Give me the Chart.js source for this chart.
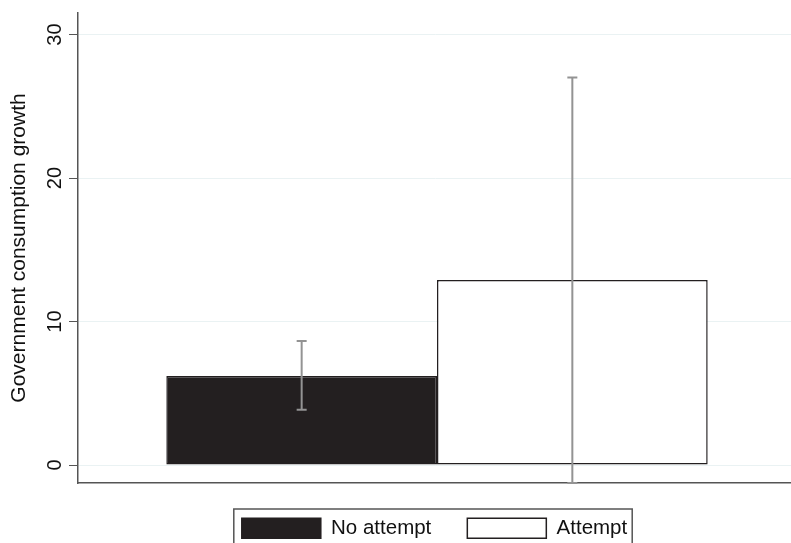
<!DOCTYPE html>
<html>
<head>
<meta charset="utf-8">
<script src="https://cdn.jsdelivr.net/npm/chart.js@4.4.1/dist/chart.umd.min.js"></script>
<style>
html,body{margin:0;padding:0;background:#fff;}
#wrap{width:791px;height:543px;position:relative;}
</style>
</head>
<body>
<div id="wrap"><canvas id="c" width="791" height="543"></canvas></div>
<script>
// Data
const categories = [''];
const seriesNames = ['No attempt', 'Attempt'];
const meanValues = [6.2, 12.9];
const errLow = [3.85, -1.25];
const errHigh = [8.65, 27.0];
const yTicks = [0, 10, 20, 30];
const yTitle = 'Government consumption growth';

const FONT = "'Liberation Sans', Arial, Helvetica, sans-serif";
const barFill = ['#231f20', '#ffffff'];
const barBorder = ['#231f20', '#231f20'];

// extend the plot area slightly past the right edge (as in the original, where it is cut off)
const areaPlugin = {
  id: 'areaExtend',
  afterLayout(chart) {
    const ext = 5;
    chart.chartArea.right += ext;
    chart.chartArea.width = chart.chartArea.right - chart.chartArea.left;
    const x = chart.scales.x;
    x.right += ext;
    x.width = x.right - x.left;
    x.configure();
  }
};

const errorBarPlugin = {
  id: 'errorBars',
  afterDatasetsDraw(chart) {
    const ctx = chart.ctx;
    const y = chart.scales.y;
    ctx.save();
    ctx.strokeStyle = '#939393';
    ctx.lineWidth = 2;
    chart.data.datasets.forEach((ds, i) => {
      const el = chart.getDatasetMeta(i).data[0];
      const x = el.x;
      const yl = y.getPixelForValue(errLow[i]);
      const yh = y.getPixelForValue(errHigh[i]);
      ctx.beginPath();
      ctx.moveTo(x, yl); ctx.lineTo(x, yh);
      ctx.moveTo(x - 5, yl); ctx.lineTo(x + 5, yl);
      ctx.moveTo(x - 5, yh); ctx.lineTo(x + 5, yh);
      ctx.stroke();
    });
    ctx.restore();
  }
};

// rotated y tick labels, positioned through the y scale
const yLabelPlugin = {
  id: 'yLabels',
  afterDraw(chart) {
    const y = chart.scales.y;
    const ctx = chart.ctx;
    ctx.save();
    ctx.fillStyle = '#111';
    ctx.font = '20px ' + FONT;
    ctx.textAlign = 'center';
    ctx.textBaseline = 'alphabetic';
    yTicks.forEach(v => {
      const py = y.getPixelForValue(v);
      ctx.save();
      ctx.translate(61, py);
      ctx.rotate(-Math.PI / 2);
      ctx.fillText(String(v), 0, 0);
      ctx.restore();
    });
    ctx.restore();
  }
};

const legendShiftPlugin = {
  id: 'legendShift',
  afterUpdate(chart) {
    const lg = chart.legend;
    if (!lg) return;
    const dx = 0, dy = -1;
    lg.left += dx; lg.right += dx;
    lg.top += dy; lg.bottom += dy;
    (lg.legendHitBoxes || []).forEach(h => { h.left += dx; h.top += dy; });
  },
  afterDraw(chart) {
    const lg = chart.legend;
    if (!lg || !lg.legendHitBoxes || !lg.legendHitBoxes.length) return;
    const hb = lg.legendHitBoxes;
    const l = hb[0].left - 8;
    const r = hb[hb.length - 1].left + hb[hb.length - 1].width + 5;
    const t = hb[0].top - 9;
    const ctx = chart.ctx;
    ctx.save();
    ctx.strokeStyle = '#555555';
    ctx.lineWidth = 1.5;
    ctx.strokeRect(l, t, r - l, 60);
    ctx.restore();
  }
};

new Chart(document.getElementById('c'), {
  type: 'bar',
  data: {
    labels: categories,
    datasets: seriesNames.map((name, i) => ({
      label: name,
      data: [meanValues[i]],
      backgroundColor: barFill[i],
      borderColor: barBorder[i],
      borderWidth: 1.5,
      borderSkipped: false,
      barPercentage: 1,
      categoryPercentage: 0.754
    }))
  },
  options: {
    responsive: false,
    animation: false,
    devicePixelRatio: 1,
    layout: { padding: { top: 13, right: 0, bottom: 0, left: 0 } },
    plugins: {
      tooltip: { enabled: false },
      legend: {
        position: 'bottom',
        fullSize: false,
        maxHeight: 60,
        labels: {
          boxWidth: 79,
          boxHeight: 20,
          padding: 36,
          color: '#111',
          font: { family: FONT, size: 20.5 }
        }
      }
    },
    scales: {
      x: {
        display: true,
        grid: { display: false, drawTicks: false },
        ticks: { display: false },
        border: { display: true, color: '#555555', width: 1.5 },
        afterFit(s) { s.height = 0; }
      },
      y: {
        min: -1.25,
        max: 31.5,
        afterBuildTicks(s) { s.ticks = yTicks.map(v => ({ value: v })); },
        afterFit(s) { s.width = 78; },
        grid: { color: '#eaf2f3', lineWidth: 1, tickColor: '#555555', tickLength: 9, drawTicks: true },
        border: { display: true, color: '#555555', width: 1.5 },
        ticks: { display: false },
        title: {
          display: true,
          text: yTitle,
          color: '#111',
          font: { family: FONT, size: 21 },
          padding: { top: 7, bottom: 0 }
        }
      }
    }
  },
  plugins: [areaPlugin, errorBarPlugin, yLabelPlugin, legendShiftPlugin]
});
</script>
</body>
</html>
